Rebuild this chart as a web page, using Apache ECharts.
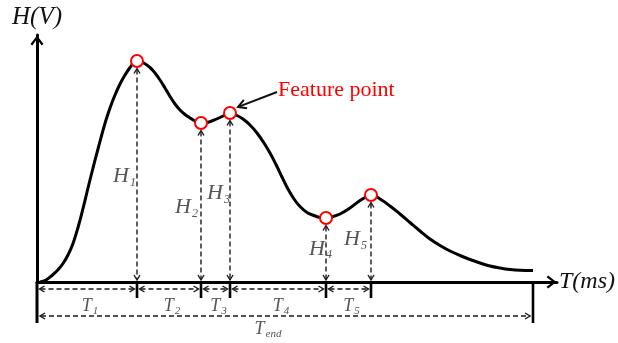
<!DOCTYPE html>
<html><head><meta charset="utf-8">
<script src="https://cdn.jsdelivr.net/npm/echarts@6/dist/echarts.min.js"></script>
<style>html,body{margin:0;padding:0;background:#fff}#c{width:618px;height:343px}</style>
</head><body><div id="c"></div>
<script>
// ---- data (time in plot units, amplitude in V) ----
const curveX = [1.5, 4.5, 7.5, 10.5, 13, 15.5, 18, 20.5, 23, 25.5, 28, 30.5, 32.5, 34.5, 36.5, 39, 41.5, 44, 46.5, 48.5, 50,
  53, 56.5, 59, 61.5, 64, 66.5, 69, 71.5, 74, 76.5, 79, 82, 85, 88, 91, 94, 96.5,
  99.5, 103, 106.5, 110, 113.5, 116.5, 119.5, 122.5, 125.5, 128.5, 131.5, 135, 138.5, 141.5, 144.5,
  148, 151.5, 156.5, 161.5, 164.5, 167,
  171.5, 176.5, 181.5, 186.5, 191.5, 196.5, 201.5, 206.5, 211.5, 216.5, 221.5, 226.5, 231.5, 236.5, 241.5, 248];
const curveY = [0, 0.02, 0.065, 0.122, 0.185, 0.27, 0.385, 0.545, 0.735, 0.94, 1.14, 1.33, 1.48, 1.62, 1.74, 1.87, 1.98, 2.07, 2.145, 2.195, 2.21,
  2.195, 2.145, 2.09, 2.02, 1.94, 1.855, 1.78, 1.72, 1.675, 1.64, 1.61, 1.59, 1.595, 1.615, 1.64, 1.67, 1.69,
  1.67, 1.63, 1.57, 1.49, 1.39, 1.29, 1.175, 1.05, 0.93, 0.83, 0.755, 0.695, 0.665, 0.645, 0.64,
  0.655, 0.68, 0.74, 0.815, 0.85, 0.87,
  0.83, 0.76, 0.68, 0.595, 0.51, 0.43, 0.365, 0.31, 0.265, 0.225, 0.19, 0.16, 0.14, 0.125, 0.117, 0.115];
const featureX = [50, 82, 96.5, 144.5, 167];
const featureY = [2.21, 1.59, 1.69, 0.64, 0.87];
const endTime = 248;
const hSubs = ['1', '2', '3', '4', '5'];
const tSubs = ['1', '2', '3', '4', '5'];
const totalSub = 'end';
const calloutText = 'Feature point';
const calloutIndex = 2;

// ---- layout / style (not data) ----
const hLabelDx = [-1, -3, 0, 6, -4];
const hLabelDy = [5, 5, -4, -1, 1];
const SERIF = '"Liberation Serif","Times New Roman",serif';
const INK = '#000';
const DASH = '#1a1a1a';
const LABEL = '#555';
const chevPath = 'path://M6.5,0 L13,8.3 L11.2,9.8 L6.5,3.4 L1.8,9.8 L0,8.3 Z';

function chevron(tx, ty, dx, dy, len, half, lw, color) {
  const bx = tx - dx * len, by = ty - dy * len;
  const px = -dy, py = dx;
  return { type: 'polyline', shape: { points: [[bx + px * half, by + py * half], [tx, ty], [bx - px * half, by - py * half]] },
    style: { stroke: color, lineWidth: lw, fill: null } };
}
function seg(x1, y1, x2, y2, style) { return { type: 'line', shape: { x1, y1, x2, y2 }, style }; }
const dashStyle = { stroke: DASH, lineWidth: 1.4, lineDash: [5, 3] };
function subText(main, sub, mSize, sSize, x, y, align) {
  return { type: 'text', style: { text: '{m|' + main + '}{s|' + sub + '}', x, y, align, verticalAlign: 'middle',
    rich: {
      m: { fontFamily: SERIF, fontStyle: 'italic', fontSize: mSize, fill: LABEL, lineHeight: mSize, verticalAlign: 'top' },
      s: { fontFamily: SERIF, fontStyle: 'italic', fontSize: sSize, fill: LABEL, lineHeight: sSize, padding: [Math.round(mSize * 0.5), 0, 0, 1], verticalAlign: 'top' }
    } } };
}

const bounds = [0].concat(featureX);
const intervals = tSubs.map((s, i) => [bounds[i], bounds[i + 1], i]);

const chart = echarts.init(document.getElementById('c'));
chart.setOption({
  animation: false,
  backgroundColor: '#fff',
  grid: { left: 37, right: 61, top: 35, bottom: 61, containLabel: false, outerBoundsMode: 'none' },
  xAxis: {
    type: 'value', min: 0, max: 260,
    axisLine: { show: true, onZero: false, symbol: ['none', chevPath], symbolSize: [13, 11], symbolOffset: [0, -5.5], lineStyle: { color: INK, width: 3 } },
    axisTick: { show: false }, axisLabel: { show: false }, splitLine: { show: false },
    name: 'T(ms)', nameLocation: 'end', nameGap: 2, nameMoveOverlap: false,
    nameTextStyle: { fontFamily: SERIF, fontStyle: 'italic', fontSize: 24, color: '#111', align: 'left', verticalAlign: 'middle' }
  },
  yAxis: {
    type: 'value', min: 0, max: 2.47,
    axisLine: { show: true, onZero: false, symbol: ['none', chevPath], symbolSize: [13, 11], symbolOffset: [0, -5.5], lineStyle: { color: INK, width: 3 } },
    axisTick: { show: false }, axisLabel: { show: false }, splitLine: { show: false },
    name: 'H(V)', nameLocation: 'end', nameGap: 5, nameMoveOverlap: false,
    nameTextStyle: { fontFamily: SERIF, fontStyle: 'italic', fontSize: 25, color: '#111', align: 'center', verticalAlign: 'bottom' }
  },
  series: [
    { type: 'line', data: curveX.map((x, i) => [x, curveY[i]]), smooth: 0.4, showSymbol: false, symbol: 'none',
      lineStyle: { color: INK, width: 3 }, z: 3, silent: true },
    { type: 'custom', clip: false, z: 2, silent: true,
      data: featureX.map((x, i) => [x, featureY[i]]),
      renderItem(params, api) {
        const i = params.dataIndex;
        const top = api.coord([api.value(0), api.value(1)]);
        const base = api.coord([api.value(0), 0]);
        const x = top[0];
        const y1 = top[1] + 7.5, y2 = base[1] - 2;
        return { type: 'group', children: [
          seg(x, y1 + 1, x, y2 - 1, dashStyle),
          chevron(x, y1, 0, -1, 5, 3, 1.4, DASH),
          chevron(x, y2, 0, 1, 5, 3, 1.4, DASH),
          seg(x, base[1], x, base[1] + 16, { stroke: INK, lineWidth: 2.6 }),
          subText('H', hSubs[i], 22, 12, x + hLabelDx[i], (top[1] + base[1]) / 2 + hLabelDy[i], 'right')
        ] };
      } },
    { type: 'custom', clip: false, z: 2, silent: true,
      data: intervals,
      renderItem(params, api) {
        const a = api.coord([api.value(0), 0]);
        const b = api.coord([api.value(1), 0]);
        const y = a[1] + 7;
        const xa = a[0] + 2.5, xb = b[0] - 2.5;
        return { type: 'group', children: [
          seg(xa + 1, y, xb - 1, y, dashStyle),
          chevron(xa, y, -1, 0, 5, 3, 1.4, DASH),
          chevron(xb, y, 1, 0, 5, 3, 1.4, DASH),
          subText('T', tSubs[api.value(2)], 18, 11, (a[0] + b[0]) / 2 + 3, a[1] + 24, 'center')
        ] };
      } },
    { type: 'custom', clip: false, z: 2, silent: true,
      data: [[0, endTime]],
      renderItem(params, api) {
        const a = api.coord([api.value(0), 0]);
        const b = api.coord([api.value(1), 0]);
        const y = a[1] + 34;
        const xa = a[0] + 3, xb = b[0] - 3;
        return { type: 'group', children: [
          seg(a[0], a[1], a[0], a[1] + 41, { stroke: INK, lineWidth: 3 }),
          seg(b[0], a[1], b[0], a[1] + 41, { stroke: INK, lineWidth: 2.6 }),
          seg(xa + 1, y, xb - 1, y, dashStyle),
          chevron(xa, y, -1, 0, 5, 3, 1.4, DASH),
          chevron(xb, y, 1, 0, 5, 3, 1.4, DASH),
          subText('T', totalSub, 18, 11, (a[0] + b[0]) / 2 - 17, a[1] + 47, 'center')
        ] };
      } },
    { type: 'custom', clip: false, z: 6, silent: true,
      data: [[featureX[calloutIndex], featureY[calloutIndex]]],
      renderItem(params, api) {
        const p = api.coord([api.value(0), api.value(1)]);
        const tx = p[0] + 8, ty = p[1] - 6;
        const sx = p[0] + 47, sy = p[1] - 21;
        const L = Math.hypot(tx - sx, ty - sy);
        const dx = (tx - sx) / L, dy = (ty - sy) / L;
        return { type: 'group', children: [
          seg(sx, sy, tx - dx, ty - dy, { stroke: '#111', lineWidth: 2 }),
          chevron(tx, ty, dx, dy, 8, 4.5, 2, '#111'),
          { type: 'text', style: { text: calloutText, x: p[0] + 48, y: p[1] - 23, align: 'left', verticalAlign: 'middle',
            fontFamily: SERIF, fontSize: 22, fill: '#ff0000' } }
        ] };
      } },
    { type: 'scatter', data: featureX.map((x, i) => [x, featureY[i]]), symbol: 'circle', symbolSize: 12,
      itemStyle: { color: '#fff', borderColor: '#ff0000', borderWidth: 2, opacity: 1 }, z: 10, silent: true }
  ]
});
</script></body></html>
